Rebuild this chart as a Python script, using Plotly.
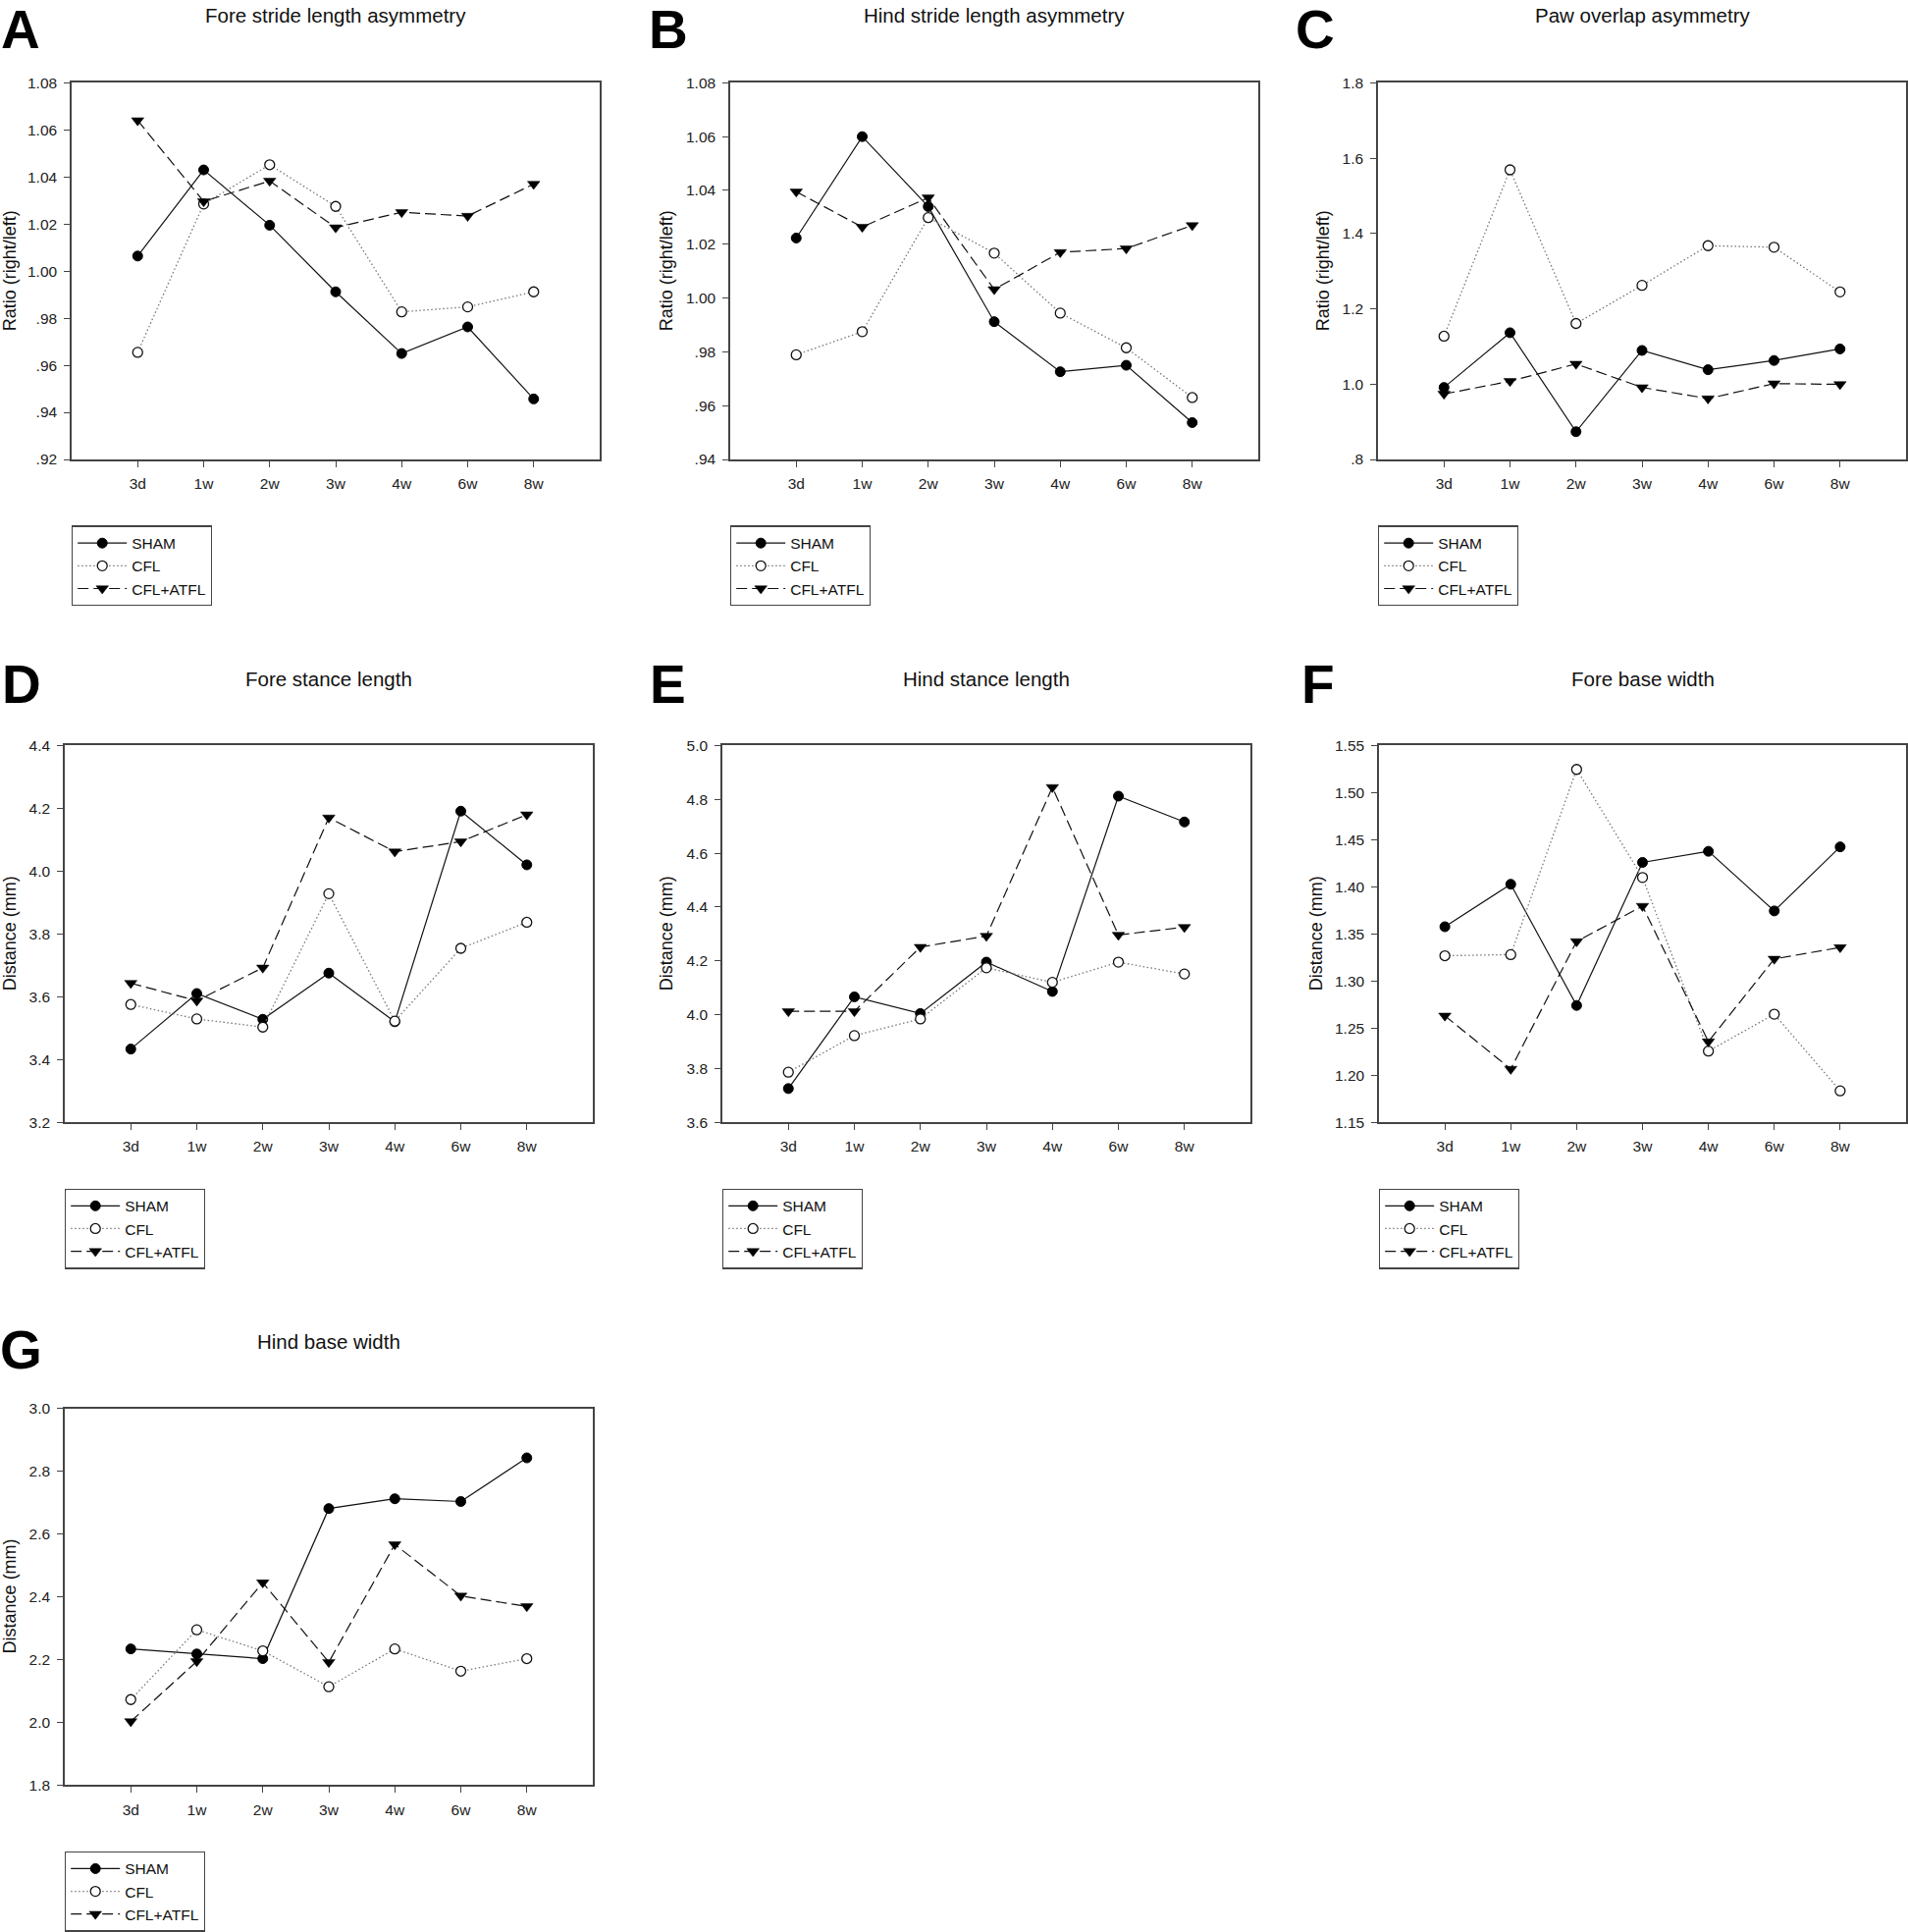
import plotly.graph_objects as go

# ---------------- data ----------------
timepoints = ["3d", "1w", "2w", "3w", "4w", "6w", "8w"]
groups = ["SHAM", "CFL", "CFL+ATFL"]

# A: Fore stride length asymmetry
fore_stride_sham = [1.0064, 1.0430, 1.0195, 0.9912, 0.9650, 0.9763, 0.9457]
fore_stride_cfl = [0.9655, 1.0285, 1.0452, 1.0275, 0.9827, 0.9848, 0.9912]
fore_stride_atfl = [1.0640, 1.0296, 1.0383, 1.0185, 1.0250, 1.0234, 1.0370]

# B: Hind stride length asymmetry
hind_stride_sham = [1.0223, 1.0600, 1.0340, 0.9912, 0.9726, 0.9750, 0.9537]
hind_stride_cfl = [0.9789, 0.9875, 1.0299, 1.0167, 0.9944, 0.9815, 0.9630]
hind_stride_atfl = [1.0395, 1.0264, 1.0373, 1.0032, 1.0170, 1.0184, 1.0270]

# C: Paw overlap asymmetry
paw_overlap_sham = [0.9912, 1.1364, 0.8736, 1.0894, 1.0382, 1.0628, 1.0934]
paw_overlap_cfl = [1.1272, 1.5689, 1.1610, 1.2622, 1.3675, 1.3634, 1.2448]
paw_overlap_atfl = [0.9738, 1.0076, 1.0536, 0.9912, 0.9615, 1.0014, 0.9994]

# D: Fore stance length
fore_stance_sham = [3.433, 3.610, 3.528, 3.675, 3.520, 4.191, 4.020]
fore_stance_cfl = [3.575, 3.529, 3.503, 3.928, 3.522, 3.754, 3.837]
fore_stance_atfl = [3.643, 3.587, 3.692, 4.170, 4.062, 4.094, 4.180]

# E: Hind stance length
hind_stance_sham = [3.725, 4.066, 4.004, 4.195, 4.086, 4.812, 4.716]
hind_stance_cfl = [3.786, 3.922, 3.984, 4.174, 4.120, 4.195, 4.151]
hind_stance_atfl = [4.012, 4.012, 4.251, 4.292, 4.845, 4.296, 4.325]

# F: Fore base width
fore_base_sham = [1.3576, 1.4027, 1.2740, 1.4259, 1.4377, 1.3744, 1.4424]
fore_base_cfl = [1.3268, 1.3280, 1.5247, 1.4099, 1.2255, 1.2647, 1.1833]
fore_base_atfl = [1.2630, 1.2065, 1.3420, 1.3795, 1.2356, 1.3234, 1.3356]

# G: Hind base width
hind_base_sham = [2.2335, 2.2174, 2.2025, 2.6807, 2.7118, 2.7031, 2.8422]
hind_base_cfl = [2.0720, 2.2944, 2.2273, 2.1130, 2.2335, 2.1627, 2.2025]
hind_base_atfl = [2.0025, 2.1937, 2.4447, 2.1913, 2.5664, 2.4025, 2.3689]

# tick values / labels
stride_a_tickvals = [0.92, 0.94, 0.96, 0.98, 1.00, 1.02, 1.04, 1.06, 1.08]
stride_a_ticktext = [".92", ".94", ".96", ".98", "1.00", "1.02", "1.04", "1.06", "1.08"]
stride_b_tickvals = [0.94, 0.96, 0.98, 1.00, 1.02, 1.04, 1.06, 1.08]
stride_b_ticktext = [".94", ".96", ".98", "1.00", "1.02", "1.04", "1.06", "1.08"]
overlap_tickvals = [0.8, 1.0, 1.2, 1.4, 1.6, 1.8]
overlap_ticktext = [".8", "1.0", "1.2", "1.4", "1.6", "1.8"]
fore_stance_tickvals = [3.2, 3.4, 3.6, 3.8, 4.0, 4.2, 4.4]
fore_stance_ticktext = ["3.2", "3.4", "3.6", "3.8", "4.0", "4.2", "4.4"]
hind_stance_tickvals = [3.6, 3.8, 4.0, 4.2, 4.4, 4.6, 4.8, 5.0]
hind_stance_ticktext = ["3.6", "3.8", "4.0", "4.2", "4.4", "4.6", "4.8", "5.0"]
fore_base_tickvals = [1.15, 1.20, 1.25, 1.30, 1.35, 1.40, 1.45, 1.50, 1.55]
fore_base_ticktext = ["1.15", "1.20", "1.25", "1.30", "1.35", "1.40", "1.45", "1.50", "1.55"]
hind_base_tickvals = [1.8, 2.0, 2.2, 2.4, 2.6, 2.8, 3.0]
hind_base_ticktext = ["1.8", "2.0", "2.2", "2.4", "2.6", "2.8", "3.0"]

titles = ["Fore stride length asymmetry", "Hind stride length asymmetry", "Paw overlap asymmetry",
          "Fore stance length", "Hind stance length", "Fore base width", "Hind base width"]
letters = ["A", "B", "C", "D", "E", "F", "G"]
ratio_label = "Ratio (right/left)"
distance_label = "Distance (mm)"

# ---------------- layout (pixels) ----------------
W, H = 1944, 1968
FONT = "Liberation Sans, Arial, Helvetica, sans-serif"

panels = [
    dict(series=(fore_stride_sham, fore_stride_cfl, fore_stride_atfl), tv=stride_a_tickvals, tt=stride_a_ticktext,
         ylab=ratio_label, box=(73, 76, 611, 463), letter=(20.5, 21), ytx=10),
    dict(series=(hind_stride_sham, hind_stride_cfl, hind_stride_atfl), tv=stride_b_tickvals, tt=stride_b_ticktext,
         ylab=ratio_label, box=(744, 76, 1282, 463), letter=(681, 21), ytx=679),
    dict(series=(paw_overlap_sham, paw_overlap_cfl, paw_overlap_atfl), tv=overlap_tickvals, tt=overlap_ticktext,
         ylab=ratio_label, box=(1404, 76, 1942, 463), letter=(1340, 21), ytx=1348),
    dict(series=(fore_stance_sham, fore_stance_cfl, fore_stance_atfl), tv=fore_stance_tickvals, tt=fore_stance_ticktext,
         ylab=distance_label, box=(66, 757, 604, 1144), letter=(22, 694), ytx=10),
    dict(series=(hind_stance_sham, hind_stance_cfl, hind_stance_atfl), tv=hind_stance_tickvals, tt=hind_stance_ticktext,
         ylab=distance_label, box=(736, 757, 1274, 1144), letter=(680, 694), ytx=679),
    dict(series=(fore_base_sham, fore_base_cfl, fore_base_atfl), tv=fore_base_tickvals, tt=fore_base_ticktext,
         ylab=distance_label, box=(1405, 757, 1942, 1144), letter=(1343, 694), ytx=1341),
    dict(series=(hind_base_sham, hind_base_cfl, hind_base_atfl), tv=hind_base_tickvals, tt=hind_base_ticktext,
         ylab=distance_label, box=(66, 1438, 604, 1825), letter=(21.5, 1378), ytx=10),
]

styles = [
    dict(line=dict(color="#111111", width=1.2),
         marker=dict(symbol="circle", size=10, color="#000000", line=dict(color="#000000", width=1))),
    dict(line=dict(color="#777777", width=1.3, dash="1.5px,2.5px"),
         marker=dict(symbol="circle", size=10, color="#ffffff", line=dict(color="#111111", width=1.3))),
    dict(line=dict(color="#111111", width=1.2, dash="11px,5px"),
         marker=dict(symbol="triangle-down", size=11, color="#000000", line=dict(color="#000000", width=0.5))),
]

fig = go.Figure()
annotations = []
layout_extra = {}

for i, p in enumerate(panels):
    n = i + 1
    xs = "" if n == 1 else str(n)
    leg = "legend" if n == 1 else f"legend{n}"
    x0, y0, x1, y1 = p["box"]
    for g, vals, st in zip(groups, p["series"], styles):
        fig.add_trace(go.Scatter(
            x=timepoints, y=vals, name=g, mode="lines+markers",
            line=st["line"], marker=st["marker"],
            xaxis="x" + xs, yaxis="y" + xs, legend=leg, showlegend=True,
        ))
    axis_common = dict(showline=True, mirror=True, linecolor="#444444", linewidth=1.5,
                       ticks="outside", ticklen=6, tickwidth=1.2, tickcolor="#444444",
                       showgrid=False, zeroline=False, fixedrange=True,
                       tickfont=dict(family=FONT, size=15.5, color="#222222"))
    layout_extra["xaxis" + xs] = dict(
        domain=[x0 / W, x1 / W], anchor="y" + xs, type="category",
        categoryorder="array", categoryarray=timepoints, range=[-1, 7],
        ticklabelstandoff=4, **axis_common)
    layout_extra["yaxis" + xs] = dict(
        domain=[1 - y1 / H, 1 - y0 / H], anchor="x" + xs,
        range=[p["tv"][0], p["tv"][-1]], tickmode="array", tickvals=p["tv"], ticktext=p["tt"],
        ticklabelstandoff=4, **axis_common)
    layout_extra[leg] = dict(
        x=x0 / W, y=1 - (y1 + 68) / H, xanchor="left", yanchor="top",
        bgcolor="#ffffff", bordercolor="#444444", borderwidth=1.2,
        font=dict(family=FONT, size=15.5, color="#111111"), traceorder="normal",
        itemwidth=50, tracegroupgap=0)
    # panel title
    cx = (x0 + x1) / 2
    annotations.append(dict(text=titles[i], x=cx / W, y=1 - (y0 - 69) / H, xref="paper", yref="paper",
                            xanchor="center", yanchor="middle", showarrow=False,
                            font=dict(family=FONT, size=20.5, color="#111111")))
    # panel letter
    lx, ly = p["letter"]
    annotations.append(dict(text="<b>" + letters[i] + "</b>", x=lx / W, y=1 - ly / H, xref="paper", yref="paper",
                            xanchor="center", yanchor="middle", showarrow=False,
                            font=dict(family=FONT, size=55, color="#000000")))
    # y-axis title
    annotations.append(dict(text=p["ylab"], x=p["ytx"] / W, y=1 - ((y0 + y1) / 2) / H, xref="paper", yref="paper",
                            xanchor="center", yanchor="middle", textangle=-90, showarrow=False,
                            font=dict(family=FONT, size=18, color="#111111")))

fig.update_layout(
    width=W, height=H, autosize=False,
    margin=dict(l=0, r=0, t=0, b=0, pad=0),
    paper_bgcolor="#ffffff", plot_bgcolor="#ffffff",
    font=dict(family=FONT, color="#111111"),
    annotations=annotations,
    **layout_extra,
)

fig.write_html("out.html", config={"displayModeBar": False},
               post_script="document.body.style.margin='0';document.body.style.overflow='hidden';")
